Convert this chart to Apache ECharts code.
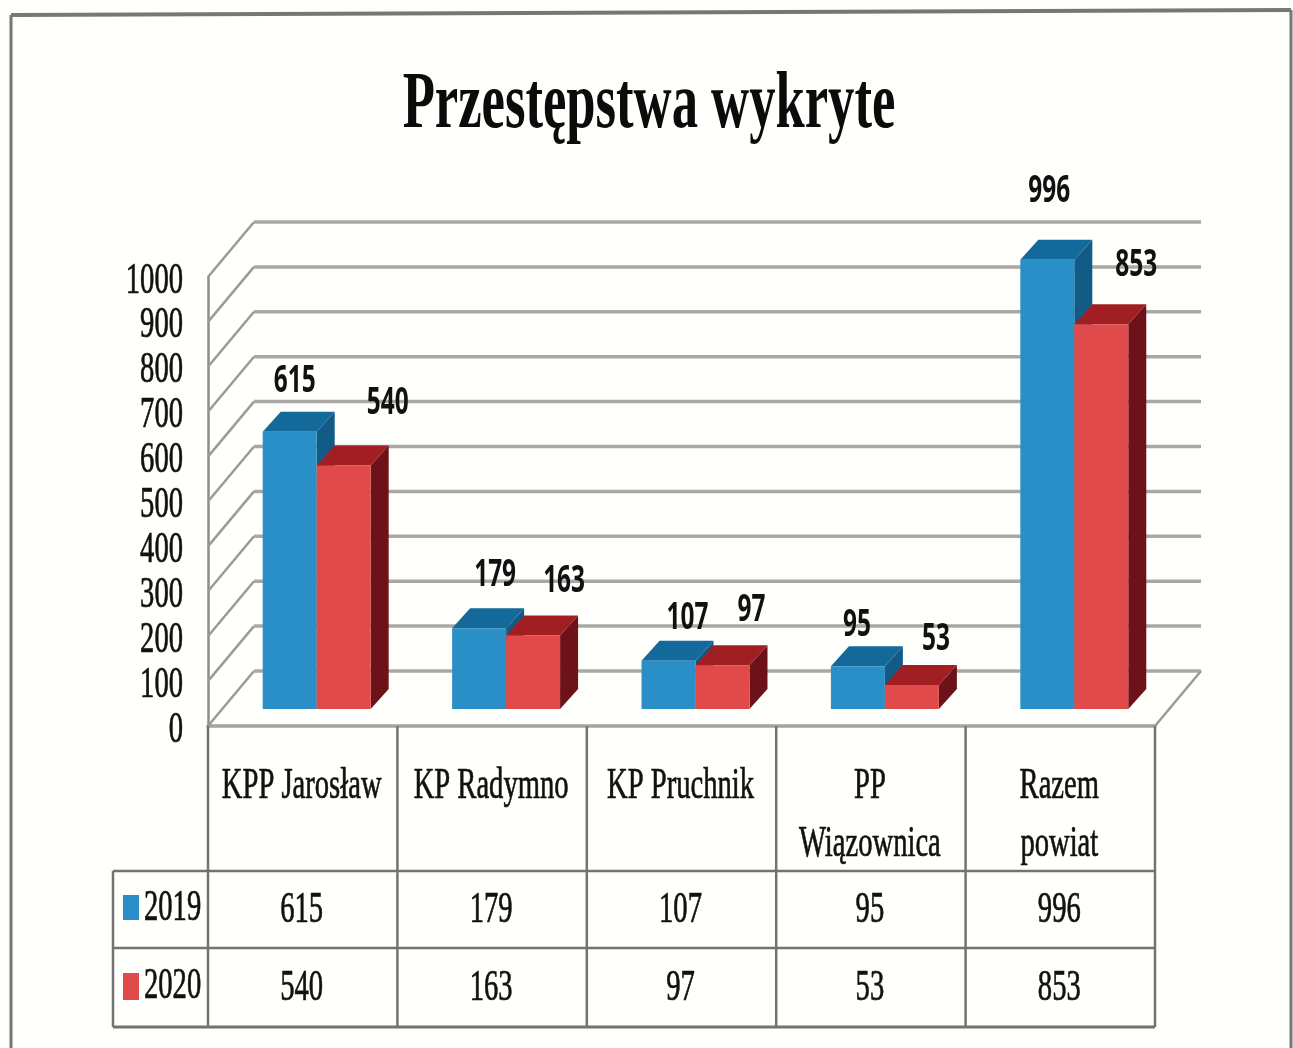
<!DOCTYPE html>
<html>
<head>
<meta charset="utf-8">
<style>
  html, body { margin: 0; padding: 0; background: #fffffb; }
  #chart { width: 1293px; height: 1048px; }
</style>
<script src="https://cdn.jsdelivr.net/npm/echarts@6/dist/echarts.min.js"></script>
</head>
<body>
<div id="chart"></div>
<script>
const chartTitle = 'Przestępstwa wykryte';
const categories = ['KPP Jarosław', 'KP Radymno', 'KP Pruchnik', 'PP Wiązownica', 'Razem powiat'];
const categoryLines = [['KPP Jarosław'], ['KP Radymno'], ['KP Pruchnik'], ['PP', 'Wiązownica'], ['Razem', 'powiat']];
const seriesNames = ['2019', '2020'];
const values2019 = [615, 179, 107, 95, 996];
const values2020 = [540, 163, 97, 53, 853];
const yTicks = [0, 100, 200, 300, 400, 500, 600, 700, 800, 900, 1000];

const serif = '"Liberation Serif", serif';
const narrow = 0.65; // the scan's text is much narrower than any installed face
const wallDepth = [46, -55];
const barDepth = [18, -20];

// label shifts from the back top edge of each bar, labels sit loosely in the original
const labelShift = {
  2019: [[5, -30], [16, -33], [19, -22], [-1, -21], [2, -48]],
  2020: [[44, -42], [31, -34], [29, -35], [24, -26], [35, -39]],
};

const palette = {
  2019: { front: '#2b8fc7', top: '#14699b', side: '#115b86' },
  2020: { front: '#e04a4b', top: '#a11f22', side: '#6e1219' },
};

function poly(points, fill) {
  return { type: 'polygon', shape: { points }, style: { fill } };
}

// one cuboid per value, position comes from the category and value axes
function barRenderer(name, slot) {
  const c = palette[name];
  return function (params, api) {
    const i = api.value(0);
    const top = api.coord([i, api.value(1)]);
    const base = api.coord([i, 0]);
    const w = api.size([1, 0])[0] * 0.285;
    const x0 = top[0] + slot * w;
    const x1 = x0 + w;
    const [dx, dy] = barDepth;
    const shift = labelShift[name][i];
    return {
      type: 'group',
      children: [
        poly([[x1, top[1]], [x1 + dx, top[1] + dy], [x1 + dx, base[1] + dy], [x1, base[1]]], c.side),
        poly([[x0, top[1]], [x0 + dx, top[1] + dy], [x1 + dx, top[1] + dy], [x1, top[1]]], c.top),
        { type: 'rect', shape: { x: x0, y: top[1], width: w, height: base[1] - top[1] }, style: { fill: c.front } },
        {
          type: 'text',
          x: x0 + w / 2 + shift[0],
          y: top[1] + dy + shift[1],
          scaleX: 0.66,
          style: {
            text: String(api.value(1)),
            fontFamily: '"Noto Sans", sans-serif',
            fontWeight: 'bold',
            fontSize: 37,
            fill: '#111',
            align: 'center',
            verticalAlign: 'middle',
          },
        },
      ],
    };
  };
}

// side wall and back wall lines for each tick
function wallRenderer(params, api) {
  const sys = params.coordSys;
  const y = api.coord([0, api.value(1)])[1];
  const xl = sys.x;
  const xr = sys.x + sys.width;
  const [dx, dy] = wallDepth;
  const children = [
    { type: 'line', shape: { x1: xl, y1: y, x2: xl + dx, y2: y + dy }, style: { stroke: '#9c9a98', lineWidth: 2.5 } },
    { type: 'line', shape: { x1: xl + dx, y1: y + dy, x2: xr + dx, y2: y + dy }, style: { stroke: '#aba7a4', lineWidth: 3.5 } },
  ];
  if (api.value(1) === 0) {
    children.push({ type: 'line', shape: { x1: xr, y1: y, x2: xr + dx, y2: y + dy }, style: { stroke: '#9c9a98', lineWidth: 2.5 } });
  }
  return { type: 'group', children };
}

function tickRenderer(params, api) {
  const y = api.coord([0, api.value(1)])[1];
  return {
    type: 'text',
    x: params.coordSys.x - 25,
    y: y + 4,
    scaleX: narrow,
    style: {
      text: String(api.value(1)),
      fontFamily: serif,
      fontSize: 44,
      fill: '#111',
      stroke: '#111',
      lineWidth: 0.7,
      align: 'right',
      verticalAlign: 'middle',
    },
  };
}

// data table under the plot
const tableLeft = 113;
const colLeft = 208;
const colWidth = 189.4;
const rowY = [726, 871, 948, 1027];

function tableText(text, x, y, align) {
  return {
    type: 'text',
    x,
    y,
    scaleX: narrow,
    z: 10,
    style: {
      text,
      fontFamily: serif,
      fontSize: 44,
      fill: '#111',
      stroke: '#111',
      lineWidth: 0.7,
      align: align || 'center',
      verticalAlign: 'middle',
    },
  };
}

function rule(x1, y1, x2, y2, stroke, lineWidth) {
  return { type: 'line', z: 9, shape: { x1, y1, x2, y2 }, style: { stroke: stroke || '#747270', lineWidth: lineWidth || 2.5 } };
}

function buildGraphic() {
  const out = [];
  const right = colLeft + colWidth * categories.length;

  // page frame of the scan, slightly tilted
  out.push(rule(11, 15, 1291, 10, '#777', 4));
  out.push(rule(11, 15, 11, 1048, '#777', 3));
  out.push(rule(1291, 10, 1291, 1048, '#777', 3));

  out.push({
    type: 'text',
    x: 649,
    y: 106,
    scaleX: 0.65,
    z: 10,
    style: {
      text: chartTitle,
      fontFamily: serif,
      fontWeight: 'bold',
      fontSize: 81,
      fill: '#0b0b0b',
      align: 'center',
      verticalAlign: 'middle',
    },
  });

  out.push(rule(tableLeft, rowY[1], right, rowY[1]));
  out.push(rule(tableLeft, rowY[2], right, rowY[2]));
  out.push(rule(tableLeft, rowY[3], right, rowY[3], '#747270', 3));
  out.push(rule(tableLeft, rowY[1], tableLeft, rowY[3]));
  out.push(rule(colLeft, rowY[0], colLeft, rowY[3]));
  categories.forEach((c, i) => {
    out.push(rule(colLeft + colWidth * (i + 1), rowY[0], colLeft + colWidth * (i + 1), rowY[3]));
  });

  categoryLines.forEach((lines, i) => {
    const cx = colLeft + colWidth * (i + 0.5);
    lines.forEach((line, k) => out.push(tableText(line, cx - 1, 786 + k * 58)));
  });

  [values2019, values2020].forEach((vals, r) => {
    const name = seriesNames[r];
    const cy = r === 0 ? 910 : 988;
    out.push({
      type: 'rect',
      z: 10,
      shape: { x: 123, y: cy - 15, width: 16, height: r === 0 ? 25 : 27 },
      style: { fill: palette[name].front },
    });
    out.push(tableText(name, 144, cy - 2, 'left'));
    vals.forEach((v, i) => out.push(tableText(String(v), colLeft + colWidth * (i + 0.5) - 1, cy)));
  });
  return out;
}

const chart = echarts.init(document.getElementById('chart'), null, { renderer: 'canvas' });

chart.setOption({
  animation: false,
  backgroundColor: '#fffffb',
  tooltip: { show: false },
  legend: { show: false },
  grid: [
    // front plane of the 3D box: walls, axis and tick labels
    { left: 208, top: 277, width: colWidth * 5, height: 449 },
    // bars stand a little further in on the floor
    { left: 222, top: 258, width: colWidth * 5, height: 451 },
  ],
  xAxis: [
    {
      type: 'category',
      gridIndex: 0,
      data: categories,
      axisLine: { lineStyle: { color: '#a5a2a0', width: 3.5 } },
      axisTick: { show: false },
      axisLabel: { show: false },
    },
    { type: 'category', gridIndex: 1, data: categories, show: false },
  ],
  yAxis: [
    {
      type: 'value',
      gridIndex: 0,
      min: 0,
      max: 1000,
      interval: 100,
      axisLine: { show: true, lineStyle: { color: '#8f8d8b', width: 2.5 } },
      axisTick: { show: false },
      axisLabel: { show: false },
      splitLine: { show: false },
    },
    { type: 'value', gridIndex: 1, min: 0, max: 1000, show: false, splitLine: { show: false } },
  ],
  series: [
    {
      type: 'custom',
      xAxisIndex: 0,
      yAxisIndex: 0,
      z: 1,
      renderItem: wallRenderer,
      data: yTicks.map(v => [0, v]),
    },
    {
      type: 'custom',
      xAxisIndex: 0,
      yAxisIndex: 0,
      z: 5,
      renderItem: tickRenderer,
      data: yTicks.map(v => [0, v]),
    },
    {
      name: seriesNames[0],
      type: 'custom',
      xAxisIndex: 1,
      yAxisIndex: 1,
      z: 3,
      renderItem: barRenderer('2019', -1),
      data: values2019.map((v, i) => [i, v]),
    },
    {
      name: seriesNames[1],
      type: 'custom',
      xAxisIndex: 1,
      yAxisIndex: 1,
      z: 4,
      renderItem: barRenderer('2020', 0),
      data: values2020.map((v, i) => [i, v]),
    },
  ],
  graphic: buildGraphic(),
});
</script>
</body>
</html>
